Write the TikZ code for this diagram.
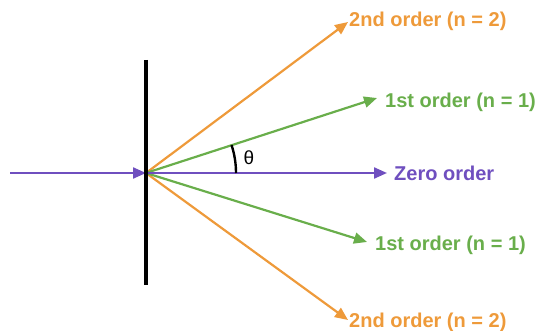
\documentclass[tikz,border=0pt]{standalone}
\usepackage{fontspec}
\setmainfont{Liberation Sans}
\usetikzlibrary{arrows.meta}
\definecolor{orng}{HTML}{EE9A3A}
\definecolor{grn}{HTML}{69AE4B}
\definecolor{purp}{HTML}{6F4FBF}
\begin{document}
\begin{tikzpicture}[x=1pt,y=-1pt,
  ray/.style={line width=2.2pt,-{Triangle[length=13pt,width=11pt]}},
  lbl/.style={font=\bfseries\fontsize{20}{22}\selectfont,anchor=west,inner sep=0pt}]
\useasboundingbox (0,0) rectangle (537,331);
\coordinate (O) at (146,173);
\coordinate (src) at (10,173);
\coordinate (gt) at (146,60);
\coordinate (gb) at (146,285);
\coordinate (arcs) at (236,173);
\node[lbl,text=purp] (z) at (394,173) {Zero order};
\node[lbl,text=grn] (f1) at (385,102) {1st order (n = 1)};
\node[lbl,text=grn] (f2) at (375,245) {1st order (n = 1)};
\node[lbl,text=orng] (s1) at (349,21) {2nd order (n = 2)};
\node[lbl,text=orng] (s2) at (349,322) {2nd order (n = 2)};
\coordinate (ez) at (387,173);
\coordinate (ef1) at (377,98);
\coordinate (ef2) at (367,242);
\coordinate (es1) at (348,22);
\coordinate (es2) at (348,320);
\draw[ray,orng] (O) -- (es1);
\draw[ray,orng] (O) -- (es2);
\draw[ray,grn] (O) -- (ef1);
\draw[ray,grn] (O) -- (ef2);
\draw[ray,purp] (O) -- (ez);
\draw[ray,purp] (src) -- (O);
\draw[line width=4.5pt] (gt) -- (gb);
\draw[line width=2.4pt] (arcs) arc[start angle=0,end angle=-18.1,radius=90];
\node[font=\fontsize{19}{21}\selectfont,inner sep=0pt] (th) at (249,158) {θ};
\end{tikzpicture}
\end{document}
